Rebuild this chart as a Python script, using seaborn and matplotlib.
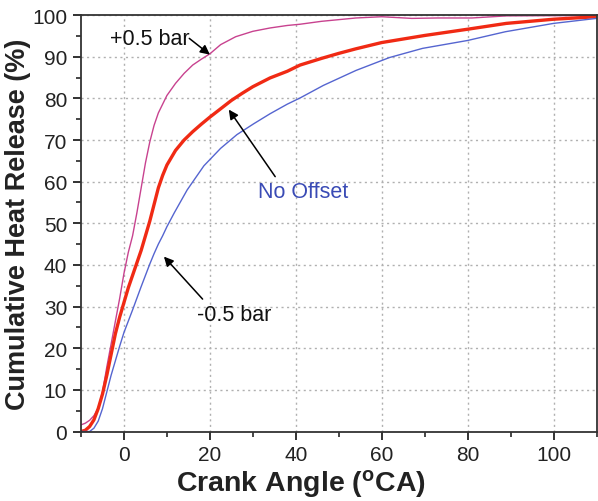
import numpy as np
import pandas as pd
import matplotlib
matplotlib.use("Agg")
import matplotlib.pyplot as plt
import seaborn as sns

# Data
plus_x = [-10, -9, -8, -7, -6, -5, -4, -3, -2, -1, 0, 1, 2, 3, 4, 5, 6, 7, 8, 10, 12, 14, 16, 18,
          20, 22.5, 26, 30, 34, 38, 41, 46, 54, 60, 67, 73, 81, 89, 110]
plus_y = [1.6, 2, 2.7, 3.8, 5.6, 9.5, 15.5, 21, 26.5, 32, 38, 43, 47, 52.5, 58.5, 64.5, 69.5, 73.5,
          76.5, 80.7, 83.6, 86, 88, 89.4, 90.7, 92.9, 94.8, 96.1, 96.9, 97.5, 97.8, 98.5, 99.3,
          99.6, 99.2, 99.3, 99.3, 99.8, 99.9]

zero_x = [-10, -9, -8, -7, -6, -5, -4, -3, -2, -1, 0, 1, 2, 3, 4, 5, 6, 7, 8, 9, 10, 12, 14, 16,
          18, 20, 22.5, 25, 27.5, 30, 34, 38, 41, 46, 50, 54, 60, 70, 80, 89, 100, 110]
zero_y = [0, 0.3, 1.2, 2.8, 5.5, 9, 13.5, 18.5, 23.5, 27.5, 31, 34.5, 37.5, 40.5, 43.5, 47, 50.5,
          54.5, 58.5, 61.5, 64, 67.5, 70, 72, 73.8, 75.5, 77.5, 79.5, 81.2, 82.8, 84.9, 86.5, 88,
          89.6, 90.8, 91.9, 93.4, 95.1, 96.6, 98, 99, 99.6]

minus_x = [-10, -8, -7, -6, -5, -4, -3, -2, -1, 0, 1, 2, 3, 4, 5, 6, 7, 8, 9, 10, 11.7, 14.7, 18.6,
           22.5, 26.3, 30.2, 34, 38, 41, 46.4, 54, 61.8, 69.5, 80, 88.8, 100, 110]
minus_y = [0, 0, 0.8, 2.5, 5.5, 9.5, 13.5, 17, 20.5, 23.8, 26.5, 29.2, 32, 34.8, 37.5, 40.2, 42.7,
           45, 47, 49.2, 52.5, 58, 63.8, 68, 71.3, 73.9, 76.3, 78.6, 80.1, 83.1, 86.7, 89.8, 92,
           93.9, 96, 98, 99.2]

labels = ["+0.5 bar", "No Offset", "-0.5 bar"]

sns.set_theme(style="ticks")
plt.rcParams["font.family"] = ["Liberation Sans", "DejaVu Sans"]
plt.rcParams["mathtext.fontset"] = "custom"
plt.rcParams["mathtext.rm"] = "Liberation Sans"
plt.rcParams["mathtext.bf"] = "Liberation Sans:bold"

df = pd.concat([
    pd.DataFrame({"x": plus_x, "y": plus_y, "s": labels[0]}),
    pd.DataFrame({"x": zero_x, "y": zero_y, "s": labels[1]}),
    pd.DataFrame({"x": minus_x, "y": minus_y, "s": labels[2]}),
])

fig = plt.figure(figsize=(5.98, 5.02), dpi=100)
ax = fig.add_axes([0.1355, 0.1384, 0.862, 0.8296])

palette = {labels[0]: "#c8428f", labels[1]: "#f02a14", labels[2]: "#5565d0"}
for s, lw in zip(labels, [1.0, 2.4, 1.0]):
    sub = df[df["s"] == s]
    sns.lineplot(data=sub, x="x", y="y", color=palette[s], linewidth=lw, ax=ax,
                 estimator=None, sort=False, legend=False)

ax.set_xlim(-10, 110)
ax.set_ylim(0, 100)
ax.set_xticks([0, 20, 40, 60, 80, 100])
ax.set_xticks([-10, 10, 30, 50, 70, 90, 110], minor=True)
ax.set_yticks(range(0, 101, 10))
ax.set_yticks(range(5, 100, 10), minor=True)
ax.grid(True, which="major", color="#b0b0b0", linestyle=(0, (1.5, 2.5)), linewidth=1.0)
ax.tick_params(axis="both", which="major", direction="out", length=6, width=1.3,
               labelsize=15, colors="#222222", top=False, right=False, pad=4)
ax.tick_params(axis="both", which="minor", direction="out", length=3.5, width=1.2,
               top=False, right=False)
for sp in ax.spines.values():
    sp.set_linewidth(1.3)
    sp.set_color("#333333")
    sp.set_visible(True)

ax.set_xlabel(r"Crank Angle ($\mathbf{^{o}}$CA)", fontsize=20.5, fontweight="bold", color="#222222")
ax.set_ylabel("Cumulative Heat Release (%)", fontsize=19.5, fontweight="bold", color="#222222")
ax.xaxis.set_label_coords(0.4268, -0.086)
ax.yaxis.set_label_coords(-0.097, 0.5)

arrow = dict(arrowstyle="-|>", color="black", lw=1.1, mutation_scale=14, shrinkA=0, shrinkB=0)
ax.annotate(labels[0], xy=(20, 90.5), xytext=(6.0, 94.3), fontsize=15.5, color="#111111",
            ha="center", va="center")
ax.annotate("", xy=(20, 90.5), xytext=(15.2, 94.4), arrowprops=arrow)
ax.annotate(labels[1], xy=(24.4, 77.3), xytext=(41.7, 57.6), fontsize=15.5, color="#3a4bb5",
            ha="center", va="center")
ax.annotate("", xy=(24.4, 77.3), xytext=(35.2, 61.2), arrowprops=arrow)
ax.annotate(labels[2], xy=(9.3, 42), xytext=(25.7, 28.2), fontsize=15.5, color="#111111",
            ha="center", va="center")
ax.annotate("", xy=(9.3, 42), xytext=(18.3, 31.8), arrowprops=arrow)

fig.savefig("out.png", dpi=100)
